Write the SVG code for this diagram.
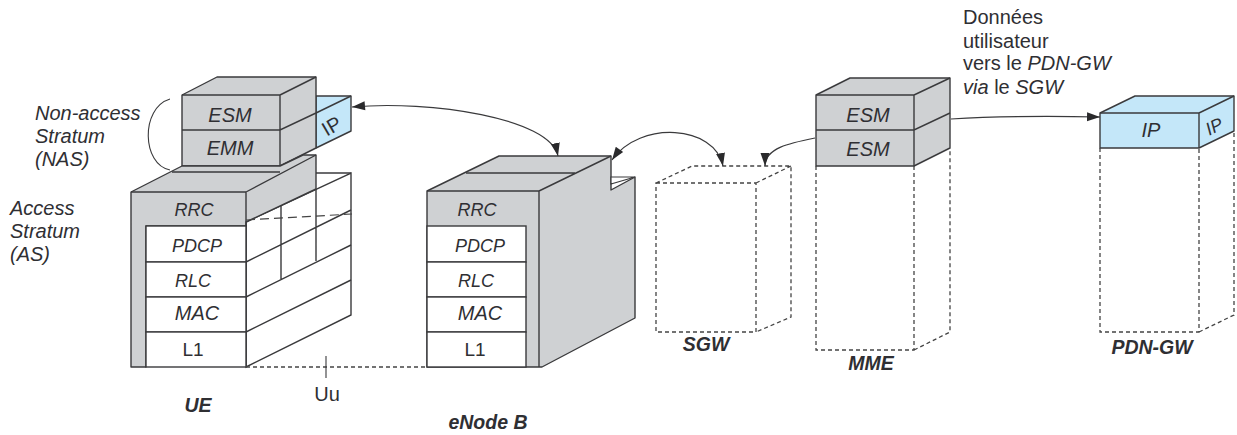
<svg xmlns="http://www.w3.org/2000/svg" width="1237" height="435" viewBox="0 0 1237 435">
<style>
text{font-family:"Liberation Sans",Arial,sans-serif;font-size:20px;fill:#2f2f33}
.i{font-style:italic}
.c{text-anchor:middle}
.r{font-size:19px}
.b{font-weight:bold;font-style:italic;font-size:19.5px}
.g{fill:#cfd1d3;stroke:#3a3a3c;stroke-width:1.4;stroke-linejoin:round}
.w{fill:#fff;stroke:#3a3a3c;stroke-width:1.4}
.l{fill:#c4e7f9;stroke:#3a3a3c;stroke-width:1.4;stroke-linejoin:round}
.n{fill:none;stroke:#3a3a3c;stroke-width:1.4}
.d{fill:none;stroke:#444;stroke-width:1.3;stroke-dasharray:4 3}
.a{fill:none;stroke:#3a3a3c;stroke-width:1.2;marker-end:url(#h)}
.s{marker-start:url(#t)}
</style>
<defs>
<marker id="h" markerUnits="userSpaceOnUse" markerWidth="14" markerHeight="10" refX="13" refY="4.5" orient="auto"><path d="M0,0L13,4.5L0,9z" fill="#2a2a2c"/></marker>
<marker id="t" markerUnits="userSpaceOnUse" markerWidth="14" markerHeight="10" refX="0" refY="4.5" orient="auto"><path d="M13,0L0,4.5L13,9z" fill="#2a2a2c"/></marker>
</defs>
<g id="ue-ip">
<path class="l" d="M316,96H351V131L316,148z"/>
<path class="n" d="M316,113L351,96"/>
<text class="c" transform="translate(335,132) rotate(-30)">IP</text>
</g>
<g id="ue-nas">
<path class="g" d="M217,77H316V148L280,166H182V95z"/>
<path class="n" d="M182,95H280V166M280,95L316,77M182,130H280L316,113"/>
<text class="i c" x="230" y="122">ESM</text>
<text class="i c" x="230" y="155">EMM</text>
</g>
<g id="ue-as">
<path class="w" d="M246,222L351,173V315L246,367z"/>
<path class="n" d="M316,173H351"/>
<path class="n" d="M246,262L351,210M246,297L351,245M246,332L351,280M281,206V279M316,189V261"/>
<path class="g" d="M131,192L182,166H280L303,155H316V189L246,222V226H146V367H131z"/>
<path class="n" d="M246,192H131M246,192V367M246,192L316,155M172,172H280"/>
<path d="M246,220L352,214" fill="none" stroke="#444" stroke-width="1.2" stroke-dasharray="9 5"/>
<rect class="w" x="146" y="226" width="100" height="36"/>
<rect class="w" x="146" y="262" width="100" height="35"/>
<rect class="w" x="146" y="297" width="100" height="35"/>
<rect class="w" x="146" y="332" width="100" height="35"/>
<text class="i c r" x="194" y="216" textLength="39" lengthAdjust="spacingAndGlyphs">RRC</text>
<text class="i c r" x="197" y="252" textLength="50" lengthAdjust="spacingAndGlyphs">PDCP</text>
<text class="i c r" x="193" y="287" textLength="36" lengthAdjust="spacingAndGlyphs">RLC</text>
<text class="i c" x="197" y="320">MAC</text>
<text class="c r" x="193" y="356">L1</text>
</g>
<g id="enb">
<path class="g" d="M427,191L499,156H611V190L635,177V318L542,367H427z"/>
<path class="w" d="M611,177H635L611,184z" style="stroke-width:1.2"/>
<path class="n" d="M427,191H539V367M539,191L611,156M466,173H575"/>
<rect class="w" x="427" y="226" width="99" height="36"/>
<rect class="w" x="427" y="262" width="99" height="35"/>
<rect class="w" x="427" y="297" width="99" height="35"/>
<rect class="w" x="427" y="332" width="99" height="35"/>
<text class="i c r" x="477" y="216" textLength="39" lengthAdjust="spacingAndGlyphs">RRC</text>
<text class="i c r" x="480" y="252" textLength="50" lengthAdjust="spacingAndGlyphs">PDCP</text>
<text class="i c r" x="476" y="287" textLength="36" lengthAdjust="spacingAndGlyphs">RLC</text>
<text class="i c" x="480" y="320">MAC</text>
<text class="c r" x="475" y="356">L1</text>
</g>
<g id="sgw">
<path class="d" d="M656,183H756V332H656zM656,183L692,166H791V317L756,332M756,183L791,166"/>
<text class="b c" x="706" y="351">SGW</text>
</g>
<g id="mme">
<path class="d" d="M816,166V350H914V166M914,350L950,332V148"/>
<path class="g" d="M850,78H950V148L914,166H816V95z"/>
<path class="n" d="M816,95H914V166M914,95L950,78M816,130H914L950,113"/>
<text class="i c" x="868" y="122">ESM</text>
<text class="i c" x="868" y="156">ESM</text>
<text class="b c" x="871" y="370">MME</text>
</g>
<g id="pdn-gw">
<path class="d" d="M1100,148V332H1199V148M1199,332L1234,315V131"/>
<path class="l" d="M1135,96H1234V131L1199,148H1100V113z"/>
<path class="n" d="M1100,113H1199V148M1199,113L1234,96"/>
<text class="i c" x="1151" y="137">IP</text>
<text class="i c" transform="translate(1217,132) rotate(-26)" style="font-size:18px">IP</text>
<text class="b c" x="1152" y="354">PDN-GW</text>
</g>
<g id="connectors">
<path class="a s" d="M352,107C430,100 550,118 558,156"/>
<path class="a s" d="M612,160C640,120 715,125 723,166"/>
<path class="a" d="M815,138C790,143 765,148 765,166"/>
<path class="a" d="M951,119C1000,116 1050,116 1100,117"/>
<path class="n" d="M170,99C140,108 142,165 170,170" style="stroke-width:1.1"/>
<path class="d" d="M246,367H427"/>
<path class="n" d="M326,356V378" style="stroke-width:1.1"/>
</g>
<g id="labels">
<text class="i" x="35" y="120">Non-access</text>
<text class="i" x="35" y="143">Stratum</text>
<text class="i" x="35" y="166">(NAS)</text>
<text class="i" x="10" y="215">Access</text>
<text class="i" x="10" y="238">Stratum</text>
<text class="i" x="10" y="261">(AS)</text>
<text class="c" x="327" y="401">Uu</text>
<text class="b c" x="198" y="412">UE</text>
<text class="b c" x="488" y="429">eNode B</text>
<text x="963" y="24">Données</text>
<text x="963" y="48">utilisateur</text>
<text x="963" y="70">vers le <tspan class="i">PDN-GW</tspan></text>
<text x="963" y="94"><tspan class="i">via</tspan> le <tspan class="i">SGW</tspan></text>
</g>
</svg>
